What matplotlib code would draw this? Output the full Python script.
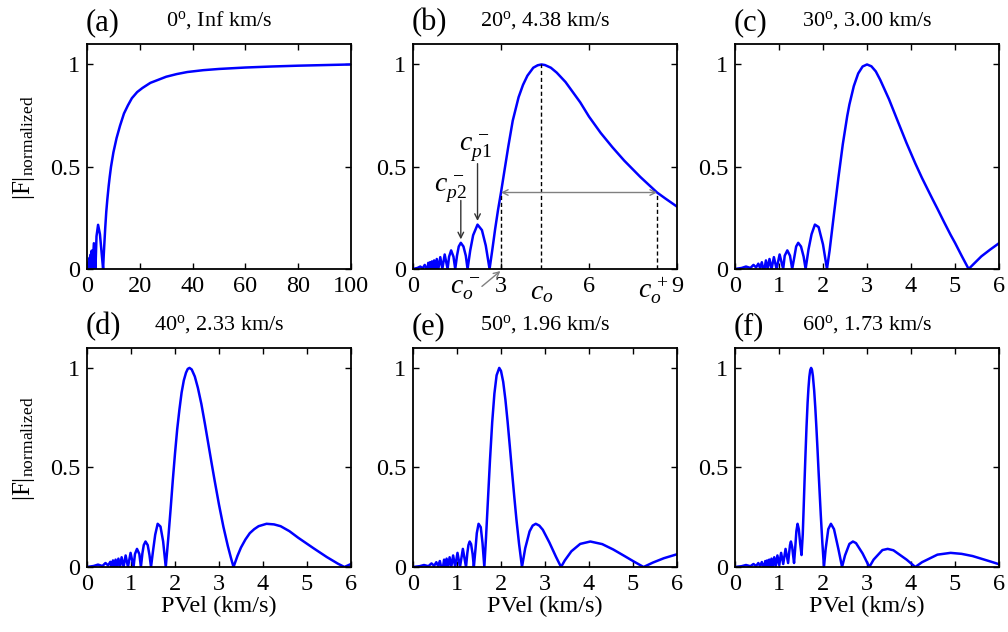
import numpy as np
import matplotlib
matplotlib.use("Agg")
import matplotlib.pyplot as plt

plt.rcParams['font.family'] = ['Liberation Serif', 'DejaVu Serif']
plt.rcParams['mathtext.fontset'] = 'custom'
plt.rcParams['mathtext.rm'] = 'Liberation Serif'
plt.rcParams['mathtext.it'] = 'Liberation Serif:italic'
plt.rcParams['mathtext.bf'] = 'Liberation Serif:bold'

# ---- values: phase velocity (km/s) vs normalized |F| ----
a_vel = [0, 0.3, 0.45, 0.55, 0.65, 0.75, 0.85, 0.92, 1.0, 1.1, 1.22, 1.35, 1.55, 1.8, 2.1,
         2.6, 3.2, 3.6, 4.2, 4.9, 5.6, 6.1, 6.35, 6.6, 6.9, 7.3, 7.7, 8.2, 8.6, 9.1, 10, 11.2,
         12.5, 14, 15.5, 17, 19, 21, 24, 27, 30, 34, 38, 44, 50, 60, 70, 80, 90, 100]
a_amp = [0, 0.02, 0, 0.03, 0, 0.04, 0, 0.05, 0, 0.058, 0, 0.07, 0, 0.09, 0,
         0.126, 0, 0.16, 0.216, 0.17, 0.07, 0, 0.07, 0.13, 0.2, 0.28, 0.34, 0.405, 0.45, 0.5, 0.57, 0.64,
         0.7, 0.76, 0.8, 0.835, 0.865, 0.885, 0.91, 0.925, 0.94, 0.953, 0.963, 0.972, 0.978, 0.985,
         0.99, 0.994, 0.997, 1.0]

b_vel = [0, 0.15, 0.25, 0.33, 0.4, 0.45, 0.5, 0.52, 0.55, 0.58, 0.61, 0.645, 0.68, 0.72, 0.76,
         0.81, 0.864, 0.93, 1.0, 1.08, 1.18, 1.23, 1.30, 1.38, 1.44, 1.5, 1.56, 1.63, 1.72, 1.8,
         1.86, 1.95, 2.05, 2.2, 2.35, 2.48, 2.61, 2.7, 2.8, 2.9, 3.0, 3.1, 3.25, 3.4, 3.6, 3.75,
         3.9, 4.1, 4.25, 4.38, 4.5, 4.7, 4.9, 5.2, 5.7, 6.0, 6.4, 6.8, 7.2, 7.75, 8.32, 8.6, 9.0]
b_amp = [0, 0.005, 0.012, 0.003, 0.02, 0.005, 0, 0.03, 0, 0.033, 0, 0.037, 0, 0.042, 0,
         0.049, 0, 0.058, 0, 0.071, 0, 0.06, 0.091, 0.06, 0, 0.065, 0.11, 0.128, 0.11, 0.065,
         0, 0.09, 0.165, 0.217, 0.19, 0.115, 0, 0.09, 0.195, 0.29, 0.374, 0.465, 0.6, 0.725, 0.84, 0.9,
         0.945, 0.984, 0.996, 1.0, 0.997, 0.984, 0.96, 0.914, 0.815, 0.745, 0.665, 0.595, 0.53, 0.45,
         0.374, 0.345, 0.305]

c_vel = [0, 0.15, 0.25, 0.35, 0.42, 0.48, 0.53, 0.57, 0.61, 0.64, 0.67, 0.703, 0.742, 0.784,
         0.831, 0.884, 0.945, 1.014, 1.095, 1.13, 1.189, 1.25, 1.30, 1.35, 1.39, 1.437, 1.5, 1.56,
         1.605, 1.67, 1.74, 1.816, 1.9, 2.0, 2.09, 2.15, 2.25, 2.35, 2.45, 2.55, 2.6, 2.7, 2.8,
         2.9, 3.0, 3.1, 3.2, 3.3, 3.5, 3.7, 3.9, 4.1, 4.25, 4.4, 4.5, 4.6, 4.75, 4.9, 5.0, 5.15,
         5.31, 5.45, 5.6, 5.8, 6.0]
c_amp = [0, 0.005, 0.012, 0.005, 0.02, 0.008, 0.026, 0.005, 0.033, 0, 0, 0.042, 0, 0.049,
         0, 0.058, 0, 0.071, 0, 0.065, 0.091, 0.065, 0, 0.06, 0.11, 0.128, 0.11, 0.06,
         0, 0.095, 0.17, 0.217, 0.205, 0.12, 0, 0.09, 0.27, 0.446, 0.61, 0.747, 0.804, 0.894, 0.956,
         0.99, 1.0, 0.991, 0.966, 0.925, 0.83, 0.722, 0.615, 0.515, 0.445, 0.38, 0.337, 0.295, 0.23, 0.167,
         0.128, 0.065, 0, 0.03, 0.062, 0.095, 0.126]

d_vel = [0, 0.15, 0.25, 0.35, 0.42, 0.48, 0.53, 0.56, 0.59, 0.62, 0.65, 0.68, 0.714, 0.75,
         0.787, 0.831, 0.878, 0.931, 0.99, 1.058, 1.09, 1.136, 1.19, 1.225, 1.26, 1.29, 1.33, 1.38,
         1.42, 1.455, 1.5, 1.55, 1.606, 1.67, 1.73, 1.79, 1.85, 1.9, 1.95, 2.0, 2.05, 2.1, 2.15,
         2.2, 2.25, 2.29, 2.33, 2.38, 2.45, 2.52, 2.6, 2.68, 2.75, 2.83, 2.9, 3.0, 3.1, 3.2, 3.27,
         3.33, 3.42, 3.5, 3.6, 3.7, 3.8, 3.9, 4.08, 4.25, 4.4, 4.6, 4.8, 5.15, 5.45, 5.7, 5.85, 6.0]
d_amp = [0, 0.005, 0.012, 0.005, 0.02, 0.008, 0.026, 0, 0.033, 0, 0.037, 0, 0.042, 0,
         0.049, 0, 0.058, 0, 0.071, 0, 0.065, 0.091, 0.065, 0, 0.07, 0.11, 0.128, 0.11,
         0.06, 0, 0.08, 0.162, 0.217, 0.203, 0.129, 0, 0.152, 0.29, 0.436, 0.57, 0.692, 0.79, 0.876,
         0.937, 0.976, 0.995, 1.0, 0.992, 0.957, 0.9, 0.818, 0.719, 0.628, 0.524, 0.435, 0.313, 0.202,
         0.106, 0.047, 0, 0.056, 0.098, 0.138, 0.17, 0.19, 0.205, 0.217, 0.214, 0.205, 0.18, 0.147,
         0.094, 0.05, 0.017, 0, 0.015]

e_vel = [0, 0.15, 0.25, 0.35, 0.42, 0.48, 0.53, 0.57, 0.61, 0.64, 0.681, 0.707, 0.734, 0.764,
         0.796, 0.832, 0.870, 0.912, 0.959, 1.011, 1.068, 1.133, 1.205, 1.235, 1.26, 1.288, 1.32,
         1.355, 1.383, 1.42, 1.45, 1.49, 1.54, 1.58, 1.621, 1.66, 1.7, 1.75, 1.8, 1.85, 1.9, 1.96,
         2.0, 2.05, 2.1, 2.15, 2.2, 2.25, 2.3, 2.35, 2.41, 2.477, 2.55, 2.65, 2.72, 2.79, 2.87,
         2.95, 3.1, 3.25, 3.365, 3.45, 3.6, 3.8, 4.03, 4.3, 4.55, 4.8, 5.0, 5.24, 5.45, 5.7, 6.0]
e_amp = [0, 0.004, 0.01, 0.004, 0.018, 0.006, 0.024, 0.005, 0.03, 0, 0, 0.037, 0, 0.042,
         0, 0.049, 0, 0.058, 0, 0.071, 0, 0.091, 0, 0.07, 0.11, 0.128, 0.115,
         0.065, 0, 0.09, 0.17, 0.217, 0.2, 0.12, 0, 0.15, 0.323, 0.538, 0.727, 0.871, 0.963, 1.0,
         0.985, 0.93, 0.841, 0.73, 0.607, 0.48, 0.357, 0.24, 0.117, 0, 0.094, 0.179, 0.208, 0.217, 0.208,
         0.187, 0.123, 0.051, 0, 0.033, 0.079, 0.116, 0.128, 0.115, 0.088, 0.056, 0.03, 0, 0.022, 0.044,
         0.064]

f_vel = [0, 0.15, 0.25, 0.35, 0.42, 0.48, 0.53, 0.57, 0.61, 0.64, 0.668, 0.688, 0.708, 0.73,
         0.752, 0.778, 0.803, 0.83, 0.860, 0.892, 0.927, 0.964, 1.0045, 1.048, 1.096, 1.149,
         1.207, 1.23, 1.25, 1.271, 1.3, 1.32, 1.342, 1.37, 1.395, 1.422, 1.45, 1.48, 1.512, 1.54,
         1.56, 1.58, 1.6, 1.625, 1.65, 1.67, 1.69, 1.71, 1.73, 1.75, 1.77, 1.8, 1.825, 1.85, 1.875,
         1.9, 1.925, 1.95, 1.985, 2.022, 2.06, 2.12, 2.18, 2.25, 2.35, 2.433, 2.5, 2.6, 2.68, 2.75,
         2.9, 3.053, 3.15, 3.35, 3.47, 3.6, 3.9, 4.098, 4.25, 4.6, 4.9, 5.15, 5.4, 5.8, 6.0]
f_amp = [0, 0.004, 0.01, 0.004, 0.015, 0.005, 0.02, 0.004, 0.025, 0.005, 0, 0.03, 0, 0.033,
         0, 0.037, 0, 0.042, 0, 0.049, 0.005, 0.058, 0.01, 0.071, 0.015, 0.091,
         0.02, 0.07, 0.11, 0.128, 0.1, 0.06, 0.02, 0.1, 0.18, 0.217, 0.19, 0.12, 0.06, 0.164,
         0.294, 0.428, 0.555, 0.702, 0.825, 0.9, 0.956, 0.989, 1.0, 0.99, 0.96, 0.885, 0.8, 0.7, 0.592,
         0.477, 0.367, 0.26, 0.123, 0, 0.09, 0.19, 0.217, 0.19, 0.09, 0, 0.058, 0.116, 0.128, 0.12,
         0.068, 0, 0.037, 0.085, 0.091, 0.084, 0.037, 0, 0.024, 0.062, 0.071, 0.066, 0.055, 0.028, 0.014]

panel_tags = ['(a)', '(b)', '(c)', '(d)', '(e)', '(f)']
panel_titles = ['0$^{\\rm o}$, Inf km/s', '20$^{\\rm o}$, 4.38 km/s', '30$^{\\rm o}$, 3.00 km/s',
                '40$^{\\rm o}$, 2.33 km/s', '50$^{\\rm o}$, 1.96 km/s', '60$^{\\rm o}$, 1.73 km/s']
xlims = [100, 9, 6, 6, 6, 6]
xticks = [[0, 20, 40, 60, 80, 100], [0, 3, 6, 9], list(range(7)), list(range(7)),
          list(range(7)), list(range(7))]
curves = [(a_vel, a_amp), (b_vel, b_amp), (c_vel, c_amp),
          (d_vel, d_amp), (e_vel, e_amp), (f_vel, f_amp)]

# markers in panel (b)
co_minus, co, co_plus = 3.0, 4.38, 8.32
half_level = 0.374
cp1 = (2.2, 0.217)
cp2 = (1.63, 0.128)

W, H = 1008, 632
fig = plt.figure(figsize=(W / 100, H / 100), dpi=100)
lefts = [87, 413, 735]
rows = [(44, 269), (348, 567)]

axes = []
for i in range(6):
    r, c = divmod(i, 3)
    top, bot = rows[r]
    ax = fig.add_axes([lefts[c] / W, 1 - bot / H, 264 / W, (bot - top) / H])
    axes.append(ax)
    x, y = curves[i]
    ax.plot(x, y, color='#0000ff', lw=1.8)
    ax.set_xlim(0, xlims[i])
    ax.set_ylim(0, 1.1)
    ax.set_xticks(xticks[i])
    ax.set_yticks([0, 0.5, 1])
    ax.set_yticklabels(['0', '0.5', '1'])
    ax.tick_params(direction='in', top=True, right=True, length=4, width=1,
                   labelsize=17.5, pad=5)
    for s in ax.spines.values():
        s.set_linewidth(1.3)
    ax.set_title(panel_titles[i], fontsize=16, pad=13)
    ax.text(-0.005, 1 + 14 / (bot - top), panel_tags[i], transform=ax.transAxes,
            fontsize=22, ha='left', va='baseline')
    if c == 0:
        ax.set_ylabel('|F|$_{\\rm normalized}$', fontsize=18)
        ax.yaxis.set_label_coords(-0.19, 0.54)
    if r == 1:
        ax.set_xlabel('PVel (km/s)', fontsize=17.5)
        ax.xaxis.set_label_coords(0.5, -0.13)

# annotations on panel (b)
ax = axes[1]
dash = dict(color='k', lw=1, ls=(0, (3, 2)))
ax.plot([co_minus, co_minus], [0, half_level], **dash)
ax.plot([co, co], [0, 1], **dash)
ax.plot([co_plus, co_plus], [0, half_level], **dash)
ax.annotate('', xy=(co_plus, half_level), xytext=(co_minus, half_level),
            arrowprops=dict(arrowstyle='<->', color='#808080', lw=1, shrinkA=0, shrinkB=0))
ax.annotate('', xy=(cp1[0], cp1[1] + 0.018), xytext=(cp1[0], 0.515),
            arrowprops=dict(arrowstyle='->', color='#333333', lw=1, shrinkA=0, shrinkB=0))
ax.annotate('', xy=(cp2[0], cp2[1] + 0.017), xytext=(cp2[0], 0.335),
            arrowprops=dict(arrowstyle='->', color='#333333', lw=1, shrinkA=0, shrinkB=0))
ax.text(2.12, 0.52, '$c_{p1}^{\\,-}$', fontsize=20, ha='center', va='bottom')
ax.text(1.26, 0.32, '$c_{p2}^{\\,-}$', fontsize=20, ha='center', va='bottom')
ax.annotate('', xy=(2.98, -0.01), xytext=(2.35, -0.085), annotation_clip=False,
            arrowprops=dict(arrowstyle='->', color='#808080', lw=1, shrinkA=0, shrinkB=0))
ax.text(1.8, -0.03, '$c_o^{\\,-}$', fontsize=20, ha='center', va='top', clip_on=False)
ax.text(co, -0.055, '$c_o$', fontsize=20, ha='center', va='top', clip_on=False)
ax.text(8.18, -0.03, '$c_o^{\\,+}$', fontsize=20, ha='center', va='top', clip_on=False)

fig.savefig('out.png', dpi=100)
